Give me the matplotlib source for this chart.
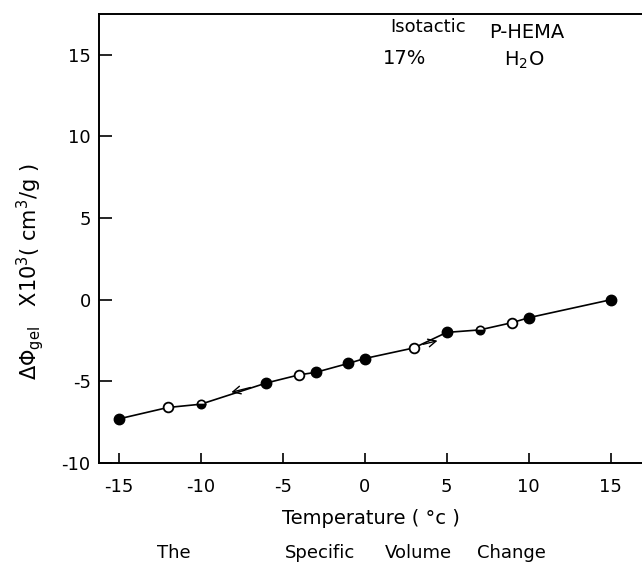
import matplotlib
matplotlib.use("Agg")
import matplotlib.pyplot as plt
import numpy as np

plt.rcParams['font.family'] = ['DejaVu Sans']
plt.rcParams['axes.unicode_minus'] = False
plt.rcParams['mathtext.fontset'] = 'dejavusans'

# Temperature (°C) and specific volume change (x10^3 cm^3/g)
temp_filled = [-15, -6, -3, -1, 0, 5, 10, 15]
dphi_filled = [-7.3, -5.1, -4.45, -3.9, -3.6, -2.0, -1.1, 0.0]

temp_open = [-12, -4, 3, 9]
dphi_open = [-6.6, -4.6, -2.95, -1.4]

temp_half = [-10, 7]
dphi_half = [-6.4, -1.85]

x_ticks = [-15, -10, -5, 0, 5, 10, 15]
x_ticklabels = ['-15', '-10', '-5', '0', '5', '10', '15']
y_ticks = [-10, -5, 0, 5, 10, 15]
y_ticklabels = ['-10', '-5', '0', '5', '10', '15']

caption_words = ['The', 'Specific', 'Volume', 'Change']

W, H = 642, 570
fig = plt.figure(figsize=(W / 100, H / 100), dpi=100)
ax = fig.add_axes([99 / W, (H - 463) / H, (W - 99) / W, (463 - 14) / H])

# connecting line through all measurements, ordered by temperature
all_t = np.array(temp_filled + temp_open + temp_half, dtype=float)
all_d = np.array(dphi_filled + dphi_open + dphi_half, dtype=float)
order = np.argsort(all_t)
ax.plot(all_t[order], all_d[order], color='black', lw=1.2, zorder=1)

ax.plot(temp_filled, dphi_filled, 'o', ms=7.5, mfc='black', mec='black', zorder=3)
ax.plot(temp_open, dphi_open, 'o', ms=7, mfc='white', mec='black', mew=1.3, zorder=3)
ax.plot(temp_half, dphi_half, 'o', ms=6, mfc='black', mec='black', mew=1.2,
        fillstyle='bottom', markerfacecoloralt='white', zorder=3)

# direction arrows on the line (cooling to the left, heating to the right)
fit = np.polyfit(all_t, all_d, 1)
def on_line(t):
    return np.polyval(fit, t)

ax.annotate('', xy=(-8.3, on_line(-8.3)), xytext=(-6.8, on_line(-6.8)),
            arrowprops=dict(arrowstyle='->', color='black', lw=1.0,
                            mutation_scale=14), zorder=2)
ax.annotate('', xy=(4.6, on_line(4.6)), xytext=(3.4, on_line(3.4)),
            arrowprops=dict(arrowstyle='->', color='black', lw=1.0,
                            mutation_scale=14), zorder=2)

ax.set_xlim(-16.2, 16.9)
ax.set_ylim(-10, 17.5)
ax.set_xticks(x_ticks)
ax.set_xticklabels(x_ticklabels)
ax.set_yticks(y_ticks)
ax.set_yticklabels(y_ticklabels)
ax.tick_params(axis='x', direction='in', length=7, width=1.2, pad=11, labelsize=13)
ax.tick_params(axis='y', direction='in', length=9, width=1.2, pad=6, labelsize=13)
ax.spines['right'].set_visible(False)
for s in ('left', 'bottom', 'top'):
    ax.spines[s].set_linewidth(1.4)

ax.set_xlabel('Temperature ( °c )', fontsize=14, labelpad=9)

fig.text(30 / W, 1 - 272 / H,
         r'$\Delta\Phi_{\rm gel}$   X10$^{3}$( cm$^{3}$/g )',
         rotation=90, ha='center', va='center', fontsize=15)

fig.text(428 / W, 1 - 27 / H, 'Isotactic', ha='center', va='center', fontsize=13)
fig.text(527 / W, 1 - 33 / H, 'P-HEMA', ha='center', va='center', fontsize=14)
fig.text(405 / W, 1 - 58 / H, '17%', ha='center', va='center', fontsize=14)
fig.text(524 / W, 1 - 60 / H, r'H$_2$O', ha='center', va='center', fontsize=14)

for word, cx in zip(caption_words, [174, 320, 418, 511]):
    fig.text(cx / W, 1 - 553 / H, word, ha='center', va='center', fontsize=13)

fig.savefig('out.png', dpi=100)
